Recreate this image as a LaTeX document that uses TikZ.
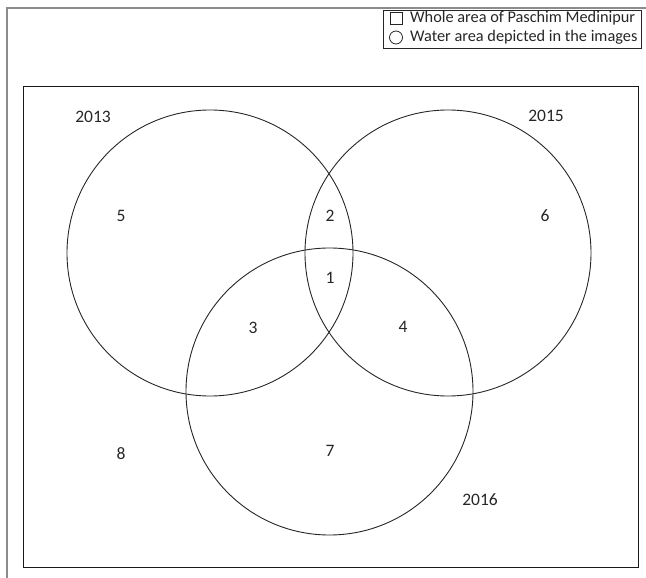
\documentclass[tikz,border=0pt]{standalone}
\usepackage{fontspec}
\setmainfont{Carlito}
\begin{document}
\begin{tikzpicture}[x=1pt,y=-1pt,
  lab/.style={font=\fontsize{17.5}{19}\selectfont, text=black!85, inner sep=0pt},
  leg/.style={font=\fontsize{16.3}{18}\selectfont, text=black!85, inner sep=0pt},
  venn/.style={draw=black!85, line width=0.9pt},
  frame/.style={draw=black!45, line width=1.2pt}]
\useasboundingbox (0,0) rectangle (646,578);
% outer partial frame
\coordinate (fa) at (7,578);
\coordinate (fb) at (7,8);
\coordinate (fc) at (646,8);
\draw[frame] (fa) -- (fb) -- (fc);
% legend
\node[draw=black!85, line width=0.8pt, minimum width=258pt, minimum height=38pt, anchor=north west, inner sep=0pt] (legend) at (383,10) {};
\node[draw=black!85, line width=0.8pt, minimum size=12pt, inner sep=0pt] (sq) at (396,18.5) {};
\node[draw=black!85, line width=0.8pt, circle, minimum size=13pt, inner sep=0pt] (ci) at (396,37.5) {};
\node[leg, anchor=west] (l1) at (410,18) {Whole area of Paschim Medinipur};
\node[leg, anchor=west] (l2) at (410,37) {Water area depicted in the images};
% universe rectangle
\node[draw=black!90, line width=0.9pt, minimum width=615pt, minimum height=481pt, anchor=north west, inner sep=0pt] (univ) at (23,86) {};
% circles
\node[venn, circle, minimum size=286pt, inner sep=0pt] (c13) at (210,253) {};
\node[venn, circle, minimum size=286pt, inner sep=0pt] (c15) at (448,253) {};
\node[venn, circle, minimum size=287pt, inner sep=0pt] (c16) at (329.5,391.5) {};
% labels
\node[lab] (y13) at (93,117) {2013};
\node[lab] (y15) at (546,116) {2015};
\node[lab] (y16) at (480,500) {2016};
\node[lab] (r5) at (121,216) {5};
\node[lab] (r2) at (330,216) {2};
\node[lab] (r6) at (545,216) {6};
\node[lab] (r1) at (330,278) {1};
\node[lab] (r3) at (253,328) {3};
\node[lab] (r4) at (403,327) {4};
\node[lab] (r8) at (121,454) {8};
\node[lab] (r7) at (330,451) {7};
\end{tikzpicture}
\end{document}
